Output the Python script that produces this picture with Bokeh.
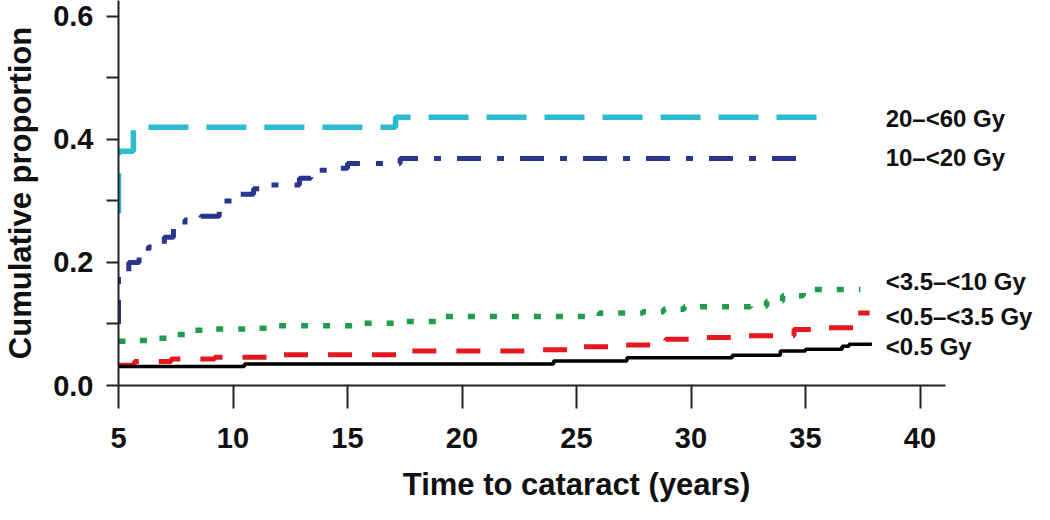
from bokeh.plotting import figure
from bokeh.models import FixedTicker, Range1d, LabelSet, ColumnDataSource
from bokeh.core.properties import value
from bokeh.embed import file_html
from bokeh.resources import INLINE

# ---- data ----
series_names = ["20\u2013<60 Gy", "10\u2013<20 Gy", "<3.5\u2013<10 Gy", "<0.5\u2013<3.5 Gy", "<0.5 Gy"]

t_20_60 = [5.0, 5.0, 5.65, 17.1, 35.8]
y_20_60 = [0.28, 0.381, 0.420, 0.436, 0.436]

t_10_20 = [5.0, 5.0, 5.45, 5.9, 6.3, 6.6, 7.0, 7.4, 7.9, 8.6, 9.4, 9.5, 10.3, 10.9,
           11.6, 12.9, 13.4, 13.7, 14.4, 15.0, 17.3, 35.0]
y_10_20 = [0.10, 0.18, 0.20, 0.218, 0.225, 0.229, 0.241, 0.258, 0.269, 0.275, 0.285, 0.30,
           0.311, 0.32, 0.326, 0.337, 0.345, 0.350, 0.353, 0.361, 0.369, 0.369]

t_35_10 = [5.0, 5.5, 6.3, 7.1, 8.0, 8.9, 11.0, 11.8, 15.6, 17.5, 19.2, 26.0, 27.9, 28.8,
           29.7, 32.6, 33.3, 34.0, 34.9, 37.4]
y_35_10 = [0.072, 0.073, 0.077, 0.083, 0.090, 0.092, 0.093, 0.097, 0.101, 0.104, 0.112,
           0.118, 0.120, 0.124, 0.128, 0.129, 0.137, 0.146, 0.156, 0.156]

t_05_35 = [5.0, 5.7, 7.3, 9.2, 11.5, 17.5, 22.8, 24.8, 26.6, 28.9, 30.3, 32.2, 34.5, 35.5, 37.3, 37.8]
y_05_35 = [0.033, 0.039, 0.043, 0.046, 0.050, 0.056, 0.058, 0.063, 0.066, 0.075, 0.078,
           0.081, 0.091, 0.094, 0.118, 0.118]

t_05 = [5.0, 10.5, 24.0, 27.2, 31.8, 33.9, 35.0, 36.6, 36.9, 37.9]
y_05 = [0.031, 0.035, 0.040, 0.045, 0.049, 0.056, 0.059, 0.064, 0.067, 0.067]

x_ticks = [5, 10, 15, 20, 25, 30, 35, 40]
y_ticks = [0.0, 0.2, 0.4, 0.6]
y_minor_ticks = [0.1, 0.3, 0.5]
y_tick_labels = ["0.0", "0.2", "0.4", "0.6"]

# ---- layout / style ----
label_x = 38.5
label_y = [0.4346, 0.370, 0.169, 0.112, 0.063]

FONT = "Liberation Sans"
AX = "#222222"
TXT = "#111111"

p = figure(width=1034, height=504,
           x_range=Range1d(5, 45.0), y_range=Range1d(0, 0.6259),
           output_backend="svg", toolbar_location=None,
           min_border_left=117, min_border_right=0,
           min_border_top=0, min_border_bottom=118)
p.outline_line_color = None
p.xgrid.grid_line_color = None
p.ygrid.grid_line_color = None
p.background_fill_color = "white"
p.border_fill_color = "white"

series = [
    (t_20_60, y_20_60, "#2bbccf", 5.5, "40 18"),
    (t_10_20, y_10_20, "#2a3590", 5.0, "24 16 7 16"),
    (t_35_10, y_35_10, "#1e9e4a", 5.5, "7 15"),
    (t_05_35, y_05_35, "#e3191f", 5.0, "24 20"),
    (t_05, y_05, "#000000", 3.5, "solid"),
]
for t, y, c, w, d in series:
    p.step(x=t, y=y, mode="after", line_color=c, line_width=w, line_dash=d)

src = ColumnDataSource(dict(x=[label_x] * len(series_names), y=label_y, text=series_names))
p.add_layout(LabelSet(x="x", y="y", text="text", source=src,
                      text_font=value(FONT), text_font_style="bold",
                      text_font_size="24px", text_color=TXT,
                      text_align="left", text_baseline="middle"))

# x axis
xa = p.xaxis[0]
xa.ticker = FixedTicker(ticks=x_ticks)
xa.bounds = (5, 41.1)
xa.axis_label = "Time to cataract (years)"
xa.axis_label_text_font = FONT
xa.axis_label_text_font_style = "bold"
xa.axis_label_text_font_size = "31px"
xa.axis_label_text_color = TXT
xa.axis_label_text_line_height = 1.0
xa.axis_label_standoff = 16
xa.major_label_text_font = FONT
xa.major_label_text_font_style = "bold"
xa.major_label_text_font_size = "29px"
xa.major_label_text_color = TXT
xa.major_label_text_line_height = 1.0
xa.major_label_standoff = 19
xa.major_tick_out = 23
xa.major_tick_in = 0
xa.minor_tick_line_color = None
xa.axis_line_width = 2
xa.major_tick_line_width = 2
xa.axis_line_color = AX
xa.major_tick_line_color = AX

# y axis
ya = p.yaxis[0]
ya.ticker = FixedTicker(ticks=y_ticks, minor_ticks=y_minor_ticks)
ya.major_label_overrides = {v: s for v, s in zip(y_ticks, y_tick_labels)}
ya.axis_label = "Cumulative proportion"
ya.axis_label_text_font = FONT
ya.axis_label_text_font_style = "bold"
ya.axis_label_text_font_size = "31px"
ya.axis_label_text_color = TXT
ya.axis_label_text_line_height = 1.0
ya.axis_label_standoff = 12
ya.major_label_text_font = FONT
ya.major_label_text_font_style = "bold"
ya.major_label_text_font_size = "29px"
ya.major_label_text_color = TXT
ya.major_label_standoff = 13
ya.major_tick_out = 12
ya.major_tick_in = 0
ya.minor_tick_out = 12
ya.minor_tick_in = 0
ya.axis_line_width = 2
ya.major_tick_line_width = 2
ya.minor_tick_line_width = 2
ya.axis_line_color = AX
ya.major_tick_line_color = AX
ya.minor_tick_line_color = AX

open("out.html", "w").write(file_html(p, INLINE))
